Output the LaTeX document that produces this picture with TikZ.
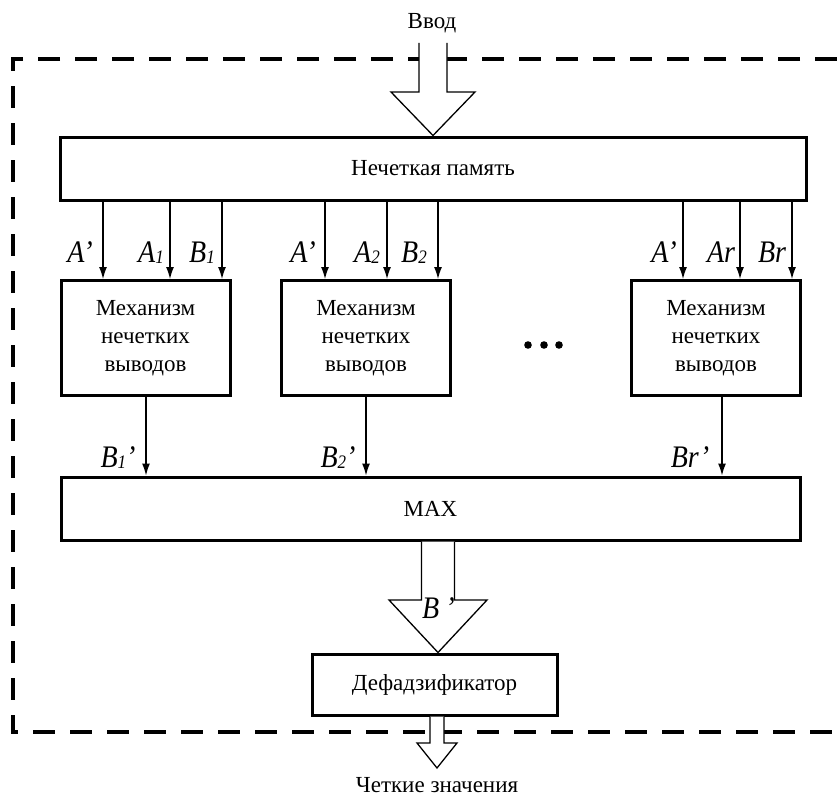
\documentclass[tikz,border=0pt]{standalone}
\usepackage{fontspec}
\setmainfont{Liberation Serif}
\usetikzlibrary{arrows.meta}
\tikzset{
 box/.style={draw, line width=3pt, inner sep=0pt, align=center, font=\fontsize{23}{28}\selectfont},
 arr/.style={line width=1.2pt, -{Latex[length=12pt,width=8pt]}},
 lab/.style={font=\fontsize{28}{28}\selectfont\itshape, inner sep=0pt, anchor=base},
 blk/.style={draw, line width=1.3pt, fill=white, line join=miter},
 frame/.style={line width=3.5pt, dash pattern=on 22pt off 15pt},
 txt/.style={font=\fontsize{23}{23}\selectfont, inner sep=0pt}
}
\newcommand\sbs[1]{\raisebox{-1pt}{\fontsize{17}{17}\selectfont #1}}
\newcommand\tl[1]{\scalebox{1}[1.12]{#1}}
\begin{document}
\begin{tikzpicture}[x=1pt,y=-1pt]
\useasboundingbox (0,0) rectangle (837,800);
\draw[frame] (837,59) -- (13,59) -- (13,732) -- (837,732);

\node[txt] (in) at (432,23) {Ввод};
\node[box, minimum width=746pt, minimum height=63pt] (mem) at (433,168.5) {Нечеткая память};

% input block arrow
\coordinate (ti) at (433,43);
\coordinate (tx) at (433,0);
\draw[blk] ([xshift=-14pt]ti) -- ([xshift=-14pt]ti |- 0,92) -- ([xshift=-42pt]ti |- 0,92)
  -- (mem.north -| tx) -- ([xshift=42pt]ti |- 0,92) -- ([xshift=14pt]ti |- 0,92) -- ([xshift=14pt]ti);

\node[box, minimum width=169pt, minimum height=115pt] (m1) at (145.5,338) {Механизм\\нечетких\\выводов};
\node[box, minimum width=169pt, minimum height=115pt] (m2) at (366,338) {Механизм\\нечетких\\выводов};
\node[box, minimum width=169pt, minimum height=115pt] (m3) at (716,338) {Механизм\\нечетких\\выводов};

\foreach \x/\b in {103/m1,170/m1,222/m1,325/m2,387/m2,438/m2,683/m3,740/m3,792/m3} {
  \coordinate (c) at (\x,0);
  \draw[arr] (mem.south -| c) -- (\b.north -| c);
}

\node[lab] (la1) at (80,262) {\tl{A’}};
\node[lab] (la2) at (151,262) {\tl{A\sbs{1}}};
\node[lab] (la3) at (202,262) {\tl{B\sbs{1}}};
\node[lab] (lb1) at (303,262) {\tl{A’}};
\node[lab] (lb2) at (367,262) {\tl{A\sbs{2}}};
\node[lab] (lb3) at (414,262) {\tl{B\sbs{2}}};
\node[lab] (lc1) at (664,262) {\tl{A’}};
\node[lab] (lc2) at (721,262) {\tl{Ar}};
\node[lab] (lc3) at (772,262) {\tl{Br}};

\foreach \x in {528,544,559} \fill (\x,345) circle (3.8pt);

\node[box, minimum width=739pt, minimum height=63pt] (max) at (430.5,508.5) {MAX};

\foreach \x/\b in {146/m1,366/m2,722/m3} {
  \coordinate (c) at (\x,0);
  \draw[arr] (\b.south -| c) -- (max.north -| c);
}
\node[lab] (ld1) at (118,467) {\tl{B\sbs{1}’}};
\node[lab] (ld2) at (338,467) {\tl{B\sbs{2}’}};
\node[lab] (ld3) at (690,467) {\tl{Br’}};

\node[box, minimum width=245pt, minimum height=61pt] (def) at (434.5,684.5) {Дефадзификатор};

% B' block arrow
\coordinate (bx) at (438,0);
\draw[blk] ([xshift=-16.5pt]max.south -| bx) -- ([xshift=-16.5pt]bx |- 0,600) -- ([xshift=-49pt]bx |- 0,600)
  -- (def.north -| bx) -- ([xshift=49pt]bx |- 0,600) -- ([xshift=16.5pt]bx |- 0,600) -- ([xshift=16.5pt]max.south -| bx);
\node[lab, anchor=base west] (lb) at (422,618) {\tl{B\hspace{6pt}’}};

% output block arrow
\node[txt] (out) at (437,785) {Четкие значения};
\coordinate (ox) at (437,0);
\draw[blk] ([xshift=-7pt]def.south -| ox) -- ([xshift=-7pt]ox |- 0,743) -- ([xshift=-20pt]ox |- 0,743)
  -- (ox |- 0,768) -- ([xshift=20pt]ox |- 0,743) -- ([xshift=7pt]ox |- 0,743) -- ([xshift=7pt]def.south -| ox);
\end{tikzpicture}
\end{document}
